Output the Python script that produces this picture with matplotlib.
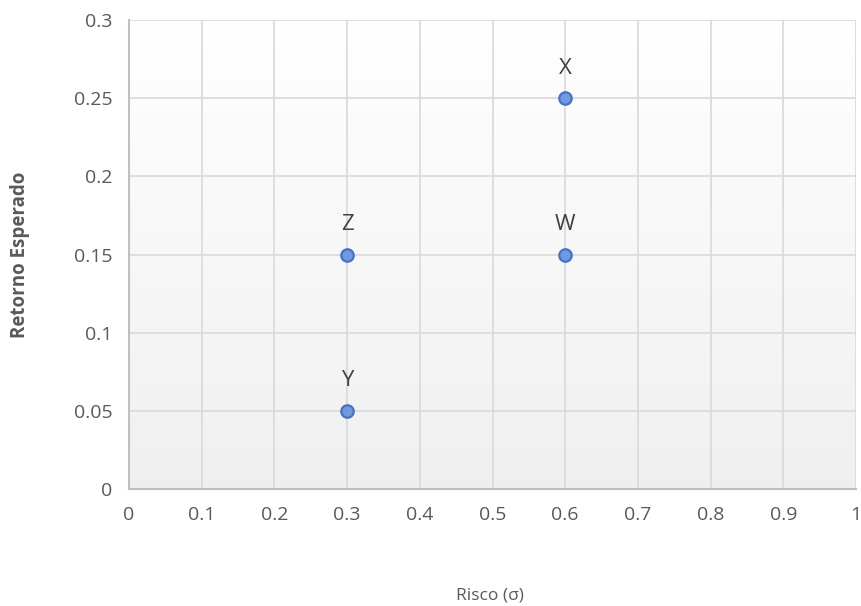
import matplotlib.pyplot as plt
import numpy as np

# dados: risco x retorno esperado
labels = ['X', 'W', 'Z', 'Y']
risco = [0.6, 0.6, 0.3, 0.3]
retorno = [0.25, 0.15, 0.15, 0.05]

plt.rcParams['font.family'] = ['Open Sans', 'DejaVu Sans']

fig = plt.figure(figsize=(8.62, 6.06), dpi=100)
ax = fig.add_axes([0.1497, 0.193, 0.8433, 0.774])

# fundo em gradiente (branco em cima, cinza claro embaixo)
t = np.linspace(0, 1, 256).reshape(-1, 1, 1)
top = np.array([1.0, 1.0, 1.0])
bot = np.array([0.94, 0.94, 0.94])
grad = bot + (top - bot) * t
ax.imshow(grad, extent=[0, 1, 0, 0.3], aspect='auto', origin='lower', zorder=0)

ax.scatter(risco, retorno, s=80, color='#7398de', edgecolors='#4472c4',
           linewidths=1.6, zorder=3)
for lb, x, y in zip(labels, risco, retorno):
    ax.annotate(lb, (x, y), xytext=(0, 14), textcoords='offset points',
                ha='center', va='bottom', fontsize=16, color='#404040')

ax.set_xlim(0, 1)
ax.set_ylim(0, 0.3)
ax.set_xticks(np.arange(0, 1.01, 0.1))
ax.set_xticklabels(['0', '0.1', '0.2', '0.3', '0.4', '0.5', '0.6', '0.7', '0.8', '0.9', '1'])
ax.set_yticks(np.arange(0, 0.301, 0.05))
ax.set_yticklabels(['0', '0.05', '0.1', '0.15', '0.2', '0.25', '0.3'])
ax.tick_params(length=0, labelsize=14, labelcolor='#595959', pad=12)
ax.grid(True, color='#d9d9d9', linewidth=1.2, zorder=1)
for s in ['top', 'right']:
    ax.spines[s].set_visible(False)
for s in ['left', 'bottom']:
    ax.spines[s].set_color('#bfbfbf')
    ax.spines[s].set_linewidth(1.5)

fig.text(0.023, 0.58, 'Retorno Esperado', rotation=90, ha='center', va='center',
         fontsize=13.5, fontweight='bold', color='#595959')
fig.text(0.568, 0.018, 'Risco (σ)', ha='center', va='center',
         fontsize=12.5, color='#595959')

fig.savefig('out.png', dpi=100)
